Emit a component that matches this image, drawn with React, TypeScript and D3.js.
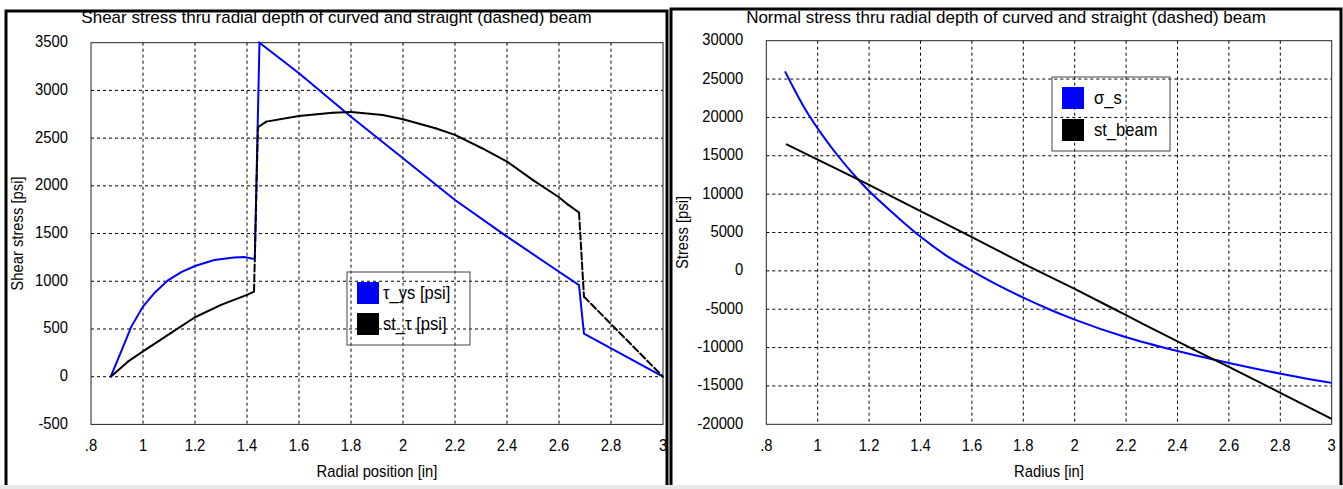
import React from 'react';
import * as d3 from 'd3';

// shear stress chart (left)
const shearTitle = 'Shear stress thru radial depth of curved and straight (dashed) beam';
const tauX = [0.876, 0.917, 0.955, 1.0, 1.045, 1.096, 1.147, 1.2, 1.274, 1.351, 1.39, 1.421, 1.43, 1.448, 1.6, 1.8, 2.0, 2.2, 2.4, 2.6, 2.677, 2.696, 3.0];
const tauYs = [0, 270, 525, 735, 880, 1010, 1095, 1160, 1222, 1250, 1255, 1235, 1240, 3500, 3180, 2725, 2290, 1852, 1468, 1100, 960, 450, 0];
const stTauX = [0.876, 0.943, 1.0, 1.108, 1.2, 1.3, 1.4, 1.427, 1.442, 1.474, 1.6, 1.729, 1.8, 1.922, 2.0, 2.125, 2.2, 2.304, 2.4, 2.5, 2.6, 2.636, 2.677, 2.696, 3.0];
const stTau = [0, 160, 265, 460, 623, 752, 857, 892, 2614, 2673, 2733, 2767, 2775, 2743, 2698, 2604, 2534, 2394, 2254, 2060, 1880, 1800, 1721, 839, 0];
const shearTicks = [-500, 0, 500, 1000, 1500, 2000, 2500, 3000, 3500];

// normal stress chart (right)
const normalTitle = 'Normal stress thru radial depth of curved and straight (dashed) beam';
const sigmaX = [0.873, 0.905, 0.944, 0.983, 1.016, 1.074, 1.152, 1.2, 1.294, 1.398, 1.502, 1.6, 1.709, 1.8, 1.9, 2.0, 2.2, 2.4, 2.54, 2.6, 2.8, 3.0];
const sigmaS = [26000, 23900, 21500, 19400, 17800, 15200, 12100, 10400, 7500, 4500, 1950, 0, -2000, -3500, -5000, -6350, -8650, -10450, -11560, -12000, -13400, -14600];
const beamX = [0.877, 1.0, 1.2, 1.4, 1.6, 1.8, 2.0, 2.2, 2.4, 2.6, 2.8, 3.0];
const stBeam = [16525, 14500, 11200, 7800, 4400, 950, -2350, -5780, -9200, -12520, -15900, -19300];
const normalTicks = [-20000, -15000, -10000, -5000, 0, 5000, 10000, 15000, 20000, 25000, 30000];

const xTicks = [0.8, 1, 1.2, 1.4, 1.6, 1.8, 2, 2.2, 2.4, 2.6, 2.8, 3];
const xTickLabels = ['.8', '1', '1.2', '1.4', '1.6', '1.8', '2', '2.2', '2.4', '2.6', '2.8', '3'];

const font = 'Liberation Sans, Arial, sans-serif';

// condensed-looking text like the original windows plot
const Label = ({ x, y, anchor = 'start', size = 17, sx = 0.87, rotate = false, children }) => (
  <text
    transform={`translate(${x},${y})${rotate ? ' rotate(-90)' : ''} scale(${sx},1)`}
    textAnchor={anchor}
    dominantBaseline="middle"
    fontSize={size}
    fill="#000"
  >
    {children}
  </text>
);

const Panel = ({ box, plot, title, xLabel, yLabel, yDomain, yTicks, series, legend, smooth }) => {
  const x = d3.scaleLinear().domain([0.8, 3]).range([plot.left, plot.right]);
  const y = d3.scaleLinear().domain(yDomain).range([plot.bottom, plot.top]);
  const line = d3.line().x((d) => x(d[0])).y((d) => y(d[1]));
  const smoothLine = d3.line().x((d) => x(d[0])).y((d) => y(d[1])).curve(d3.curveMonotoneX);
  const midX = (plot.left + plot.right) / 2;
  const midY = (plot.top + plot.bottom) / 2;

  return (
    <g>
      <rect x={box.x} y={box.y} width={box.w} height={box.h} fill="#fff" stroke="#000" strokeWidth={3} />
      <Label x={box.x + box.w / 2} y={19} anchor="middle" size={17} sx={1}>{title}</Label>

      {/* grid */}
      {xTicks.slice(1, -1).map((t) => (
        <line key={'gx' + t} x1={x(t)} x2={x(t)} y1={plot.top} y2={plot.bottom} stroke="#000" strokeDasharray="3,3" />
      ))}
      {yTicks.slice(1, -1).map((t) => (
        <line key={'gy' + t} x1={plot.left} x2={plot.right} y1={y(t)} y2={y(t)} stroke="#000" strokeDasharray="3,3" />
      ))}
      <rect x={plot.left} y={plot.top} width={plot.right - plot.left} height={plot.bottom - plot.top} fill="none" stroke="#222" />

      {/* tick labels */}
      {yTicks.map((t) => (
        <Label key={'ly' + t} x={plot.left - 23} y={y(t)} anchor="end">{t}</Label>
      ))}
      {xTicks.map((t, i) => (
        <Label key={'lx' + t} x={x(t)} y={447} anchor="middle">{xTickLabels[i]}</Label>
      ))}
      <Label x={midX} y={473} anchor="middle">{xLabel}</Label>
      <Label x={box.x + 13} y={midY} anchor="middle" rotate>{yLabel}</Label>

      {/* series */}
      {series.map((s) => {
        const pts = s.xs.map((v, i) => [v, s.ys[i]]);
        if (!s.dashedJumps) {
          return <path key={s.name} d={(smooth ? smoothLine : line)(pts)} fill="none" stroke={s.color} strokeWidth={2} />;
        }
        // long straight pieces of the straight-beam curve show their dashes
        return (
          <g key={s.name}>
            {pts.slice(1).map((p, i) => {
              const a = pts[i];
              const len = Math.hypot(x(p[0]) - x(a[0]), y(p[1]) - y(a[1]));
              return (
                <path key={i} d={line([a, p])} fill="none" stroke={s.color} strokeWidth={2}
                  strokeLinecap="round" strokeDasharray={len > 40 ? '7,3' : undefined} />
              );
            })}
          </g>
        );
      })}

      {/* legend */}
      <rect x={legend.x} y={legend.y} width={legend.w} height={legend.h} fill="none" stroke="#444" />
      {series.map((s, i) => (
        <g key={'lg' + s.name}>
          <rect x={legend.x + 10} y={legend.y + 10 + i * legend.step} width={22} height={22} fill={s.color} />
          <Label x={legend.x + legend.tx} y={legend.y + 22 + i * legend.step} size={18} sx={0.92}>{s.name}</Label>
        </g>
      ))}
    </g>
  );
};

export default function App() {
  return (
    <svg width={1343} height={489} style={{ position: 'absolute', left: 0, top: 0, fontFamily: font }}>
      <rect x={0} y={0} width={1343} height={489} fill="#fff" />
      <Panel
        box={{ x: 6, y: 11, w: 661, h: 480 }}
        plot={{ left: 91, right: 663, top: 42.7, bottom: 424.4 }}
        title={shearTitle}
        xLabel="Radial position [in]"
        yLabel="Shear stress [psi]"
        yDomain={[-500, 3500]}
        yTicks={shearTicks}
        series={[
          { name: 'τ_ys [psi]', xs: tauX, ys: tauYs, color: '#0000ff' },
          { name: 'st_τ [psi]', xs: stTauX, ys: stTau, color: '#000', dashedJumps: true },
        ]}
        legend={{ x: 347, y: 272, w: 123, h: 73, step: 31, tx: 36 }}
      />
      <Panel
        box={{ x: 671, y: 9, w: 670, h: 482 }}
        plot={{ left: 766.3, right: 1331.7, top: 40.7, bottom: 424.3 }}
        title={normalTitle}
        xLabel="Radius [in]"
        yLabel="Stress [psi]"
        yDomain={[-20000, 30000]}
        yTicks={normalTicks}
        smooth
        series={[
          { name: 'σ_s', xs: sigmaX, ys: sigmaS, color: '#0000ff' },
          { name: 'st_beam', xs: beamX, ys: stBeam, color: '#000' },
        ]}
        legend={{ x: 1052, y: 77, w: 118, h: 74, step: 32, tx: 42 }}
      />
      <rect x={0} y={485} width={1343} height={4} fill="#e8e8e8" />
    </svg>
  );
}
